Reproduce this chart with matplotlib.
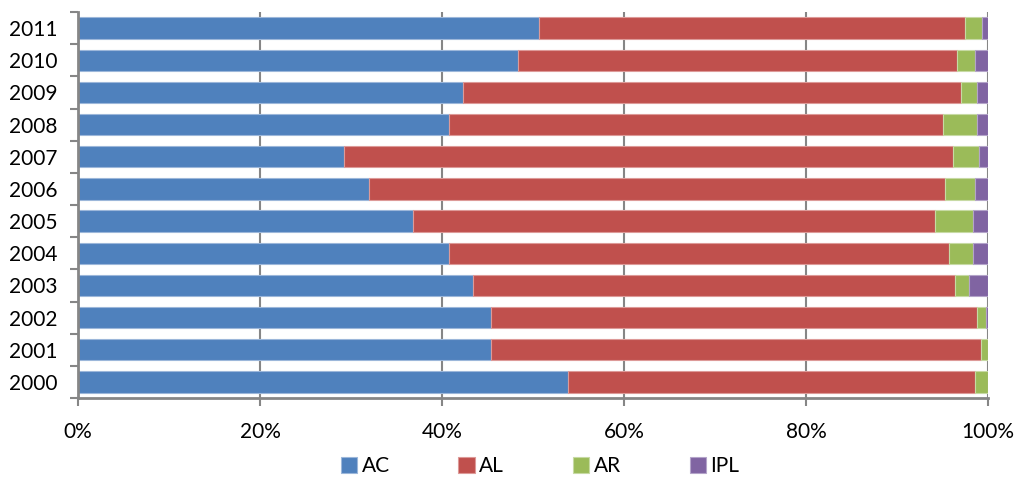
import matplotlib
matplotlib.use("Agg")
from matplotlib import pyplot as plt
from matplotlib.ticker import FixedLocator, PercentFormatter
import numpy as np

plt.rcParams['font.family'] = ['Lato', 'DejaVu Sans']

years = ['2000', '2001', '2002', '2003', '2004', '2005',
         '2006', '2007', '2008', '2009', '2010', '2011']
# shares per year, percent
ac = [53.8, 45.4, 45.4, 43.4, 40.8, 36.8, 32.0, 29.2, 40.8, 42.3, 48.3, 50.7]
al = [44.8, 53.8, 53.4, 53.0, 54.9, 57.4, 63.3, 67.0, 54.25, 54.7, 48.3, 46.8]
ar = [1.4, 0.8, 1.0, 1.5, 2.7, 4.2, 3.3, 2.8, 3.75, 1.8, 2.0, 1.8]
ipl = [0.0, 0.0, 0.2, 2.1, 1.6, 1.6, 1.4, 1.0, 1.2, 1.2, 1.4, 0.7]

series = [('AC', ac, '#4F81BD', '#9CB7DA'),
          ('AL', al, '#C0504D', '#DD9A98'),
          ('AR', ar, '#9BBB59', '#C7DAA4'),
          ('IPL', ipl, '#8064A2', '#B4A4C9')]

fig = plt.figure(figsize=(10.17, 4.78), dpi=100)
ax = fig.add_axes([78 / 1017, 80 / 478, 910 / 1017, 386 / 478])

y = np.arange(len(years))
left = np.zeros(len(years))
for name, vals, col, edge in series:
    vals = np.array(vals)
    ax.barh(y, vals, left=left, height=0.66, color=col, edgecolor=edge,
            linewidth=0.8, label=name, zorder=3)
    left += vals

grey = '#868686'
ax.set_xlim(0, 100)
ax.set_ylim(-0.5, len(years) - 0.5)
ax.xaxis.set_major_locator(FixedLocator([0, 20, 40, 60, 80, 100]))
ax.xaxis.set_major_formatter(PercentFormatter(decimals=0))
ax.grid(axis='x', color=grey, linewidth=1.5, zorder=1)

ax.set_yticks(y)
ax.set_yticklabels(years)
ax.yaxis.set_minor_locator(FixedLocator(np.arange(-0.5, len(years), 1.0)))
ax.tick_params(axis='y', which='major', length=0, pad=15, labelsize=15)
ax.tick_params(axis='y', which='minor', length=6, width=1.5, color=grey)
ax.tick_params(axis='x', which='major', length=6, width=1.5, color=grey,
               pad=11, labelsize=15)

for s in ['top', 'right']:
    ax.spines[s].set_visible(False)
for s in ['left', 'bottom']:
    ax.spines[s].set_color(grey)
    ax.spines[s].set_linewidth(2)
    ax.spines[s].set_zorder(4)

fig.legend(loc='center', bbox_to_anchor=(540 / 1017, 1 - 466 / 478), ncol=4,
           frameon=False, fontsize=15, handlelength=0.8, handleheight=0.8,
           handletextpad=0.2, columnspacing=3.3, borderpad=0.2)

fig.savefig('out.png', dpi=100)
